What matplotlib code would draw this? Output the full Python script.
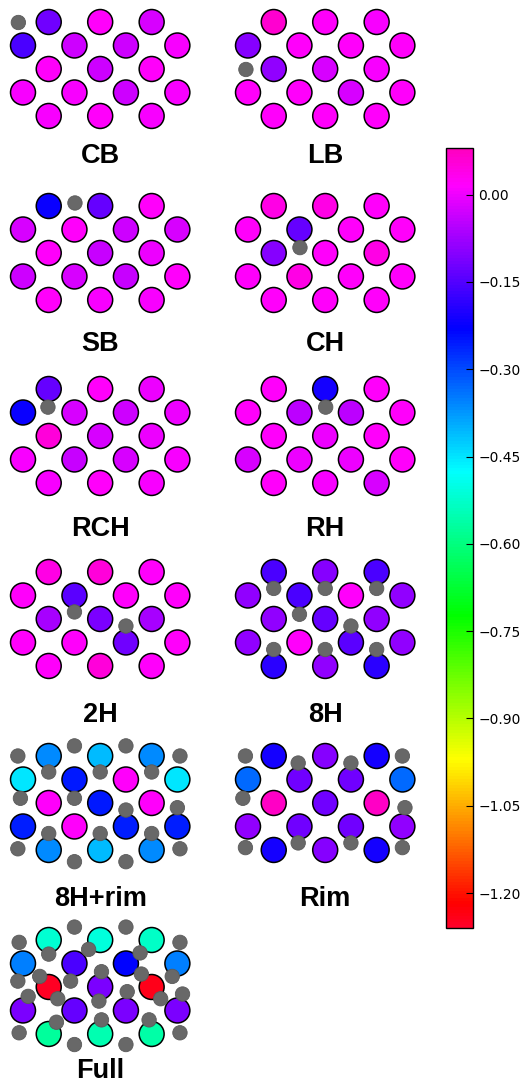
import numpy as np
import matplotlib
matplotlib.use('Agg')
import matplotlib.pyplot as plt
from matplotlib.patches import Circle
from matplotlib.collections import PatchCollection
from matplotlib.colors import Normalize
from matplotlib.ticker import FuncFormatter

# panel names, left column then right column, row by row
labels = ['CB', 'LB', 'SB', 'CH', 'RCH', 'RH', '2H', '8H', '8H+rim', 'Rim', 'Full']

# charge on the 17 lattice atoms, ordered row by row
# (rows 0,2,4 hold columns 1,3,5 ; rows 1,3 hold columns 0,2,4,6)
cb_q = [-0.12, 0.02, -0.02, -0.16, -0.03, -0.03, 0.01, 0.02, -0.03, 0.02,
        0.01, 0.01, -0.03, 0.01, 0.01, 0.02, 0.01]
lb_q = [0.06, 0.02, 0.01, -0.10, 0.02, 0.02, 0.02, -0.09, -0.02, 0.01,
        0.02, 0.02, -0.02, 0.02, 0.02, 0.02, 0.02]
sb_q = [-0.22, -0.13, 0.02, -0.02, 0.02, -0.03, -0.02, 0.02, -0.04, 0.00,
        -0.03, -0.02, -0.04, 0.02, 0.02, 0.01, 0.01]
ch_q = [0.04, 0.04, 0.02, 0.02, -0.13, 0.02, 0.02, -0.10, 0.02, 0.04,
        0.02, 0.04, 0.02, 0.02, 0.02, 0.02, 0.02]
rch_q = [-0.13, 0.02, 0.00, -0.22, -0.02, -0.03, 0.00, 0.05, -0.02, 0.00,
         0.01, -0.04, -0.02, 0.01, 0.01, 0.02, 0.01]
rh_q = [0.02, -0.21, 0.02, 0.02, -0.05, -0.05, 0.02, 0.02, 0.00, 0.02,
        -0.02, 0.00, 0.00, 0.02, 0.02, 0.01, -0.02]
h2_q = [0.04, 0.05, 0.02, 0.02, -0.14, 0.02, 0.02, -0.07, -0.11, -0.07,
        0.02, 0.02, -0.12, 0.02, 0.02, 0.05, 0.02]
h8_q = [-0.16, -0.10, -0.16, -0.09, -0.16, 0.02, -0.09, -0.09, -0.13, -0.09,
        -0.09, 0.02, -0.14, -0.09, -0.19, -0.09, -0.19]
h8rim_q = [-0.36, -0.41, -0.36, -0.45, -0.25, 0.02, -0.45, 0.02, -0.25, 0.02,
           -0.26, 0.02, -0.26, -0.26, -0.36, -0.41, -0.36]
rim_q = [-0.21, -0.10, -0.21, -0.33, -0.12, -0.12, -0.33, 0.07, -0.12, 0.07,
         -0.09, -0.12, -0.12, -0.09, -0.21, -0.10, -0.21]
full_q = [-0.52, -0.51, -0.53, -0.35, -0.16, -0.23, -0.35, -1.25, -0.11, -1.24,
          -0.11, -0.13, -0.11, -0.11, -0.57, -0.55, -0.56]

# adsorbed H atoms as (column, row) in lattice units
cb_h = [(-0.2, 0.0)]
lb_h = [(-0.1, 2.0)]
sb_h = [(2.0, -0.15)]
ch_h = [(2.0, 1.75)]
rch_h = [(0.95, 0.75)]
rh_h = [(3.0, 0.75)]
h2_h = [(2.0, 1.7), (4.0, 2.3)]
h8_h = [(1.0, 0.7), (3.0, 0.7), (5.0, 0.7), (2.0, 1.8), (4.0, 2.3),
        (1.0, 3.3), (3.0, 3.3), (5.0, 3.3)]
h8rim_h = [(-0.2, 0.0), (1.0, 0.68), (2.0, -0.43), (3.0, 0.68), (4.0, -0.43),
           (5.0, 0.68), (6.1, 0.0), (-0.1, 1.8), (2.0, 1.8), (4.0, 2.3),
           (6.0, 2.2), (1.0, 3.3), (3.0, 3.3), (5.0, 3.3), (-0.2, 3.95),
           (2.0, 4.5), (4.0, 4.5), (6.1, 3.95)]
rim_h = [(-0.1, 0.0), (1.95, 0.3), (4.0, 0.3), (6.0, 0.0), (-0.2, 1.8),
         (6.1, 2.2), (-0.1, 3.9), (1.95, 3.7), (4.0, 3.7), (6.0, 3.9)]
full_h = [(-0.15, 0.1), (1.0, 0.6), (2.0, -0.55), (2.55, 0.4), (4.0, -0.55),
          (4.55, 0.55), (6.1, 0.1), (-0.2, 1.75), (0.65, 1.55), (1.85, 1.75),
          (3.05, 1.35), (4.6, 1.45), (5.8, 1.55), (0.2, 2.4), (1.35, 2.5),
          (2.95, 2.6), (4.05, 2.2), (5.35, 2.5), (6.2, 2.3), (-0.15, 3.95),
          (1.3, 3.5), (3.05, 3.4), (4.9, 3.4), (6.1, 3.95), (2.0, 4.45),
          (4.0, 4.45)]

charges = [cb_q, lb_q, sb_q, ch_q, rch_q, rh_q, h2_q, h8_q, h8rim_q, rim_q, full_q]
hydrogens = [cb_h, lb_h, sb_h, ch_h, rch_h, rh_h, h2_h, h8_h, h8rim_h, rim_h, full_h]

cbar_ticks = [0.00, -0.15, -0.30, -0.45, -0.60, -0.75, -0.90, -1.05, -1.20]
vmin, vmax = -1.26, 0.08

# lattice sites of the slab
sites = []
for r in range(5):
    cols = [1, 3, 5] if r % 2 == 0 else [0, 2, 4, 6]
    for c in cols:
        sites.append((c, r))

W, H = 525, 1082
S = 25.73          # pixels per lattice column
RS = 0.913         # row spacing in column units
row_top = [22, 206, 389, 572, 756, 940]        # y of lattice row 0 (px)
title_base = [163, 351, 536, 722, 906, 1078]  # title baselines (px)
col_x0 = [23, 248]                             # x of lattice column 0 (px)

cmap = plt.get_cmap('gist_rainbow')
norm = Normalize(vmin=vmin, vmax=vmax)

fig = plt.figure(figsize=(W / 100, H / 100), dpi=100)

pc_last = None
for i, (name, q, hs) in enumerate(zip(labels, charges, hydrogens)):
    r, c = divmod(i, 2)
    left = col_x0[c] - 0.75 * S
    top = row_top[r] - 0.8 * S
    ax = fig.add_axes([left / W, 1 - (top + 5.6 * S) / H, 7.5 * S / W, 5.6 * S / H])
    ax.set_xlim(-0.75, 6.75)
    ax.set_ylim(-4.8, 0.8)
    ax.axis('off')

    atoms = [Circle((sc, -sr * RS), 0.485) for sc, sr in sites]
    pc = PatchCollection(atoms, cmap=cmap, norm=norm, edgecolor='black',
                         linewidth=1.1, zorder=2)
    pc.set_array(np.array(q))
    ax.add_collection(pc)
    pc_last = pc

    hyd = [Circle((hc, -hr * RS), 0.28) for hc, hr in hs]
    ax.add_collection(PatchCollection(hyd, facecolor='#686868', edgecolor='#5a5a5a',
                                      linewidth=0.6, zorder=3))

    fig.text((col_x0[c] + 3 * S) / W, 1 - title_base[r] / H, name,
             ha='center', va='baseline', fontsize=19.5, fontweight='bold',
             family='Liberation Sans')

cax = fig.add_axes([446 / W, 1 - 928 / H, 27 / W, 780 / H])
cb = fig.colorbar(pc_last, cax=cax, ticks=cbar_ticks,
                  format=FuncFormatter(lambda v, _: f'{v:.2f}'.replace('-', '\u2212')))
cb.outline.set_linewidth(1.0)
cax.tick_params(direction='in', length=5, width=0.8, labelsize=10, pad=4)

fig.savefig('out.png', dpi=100)
